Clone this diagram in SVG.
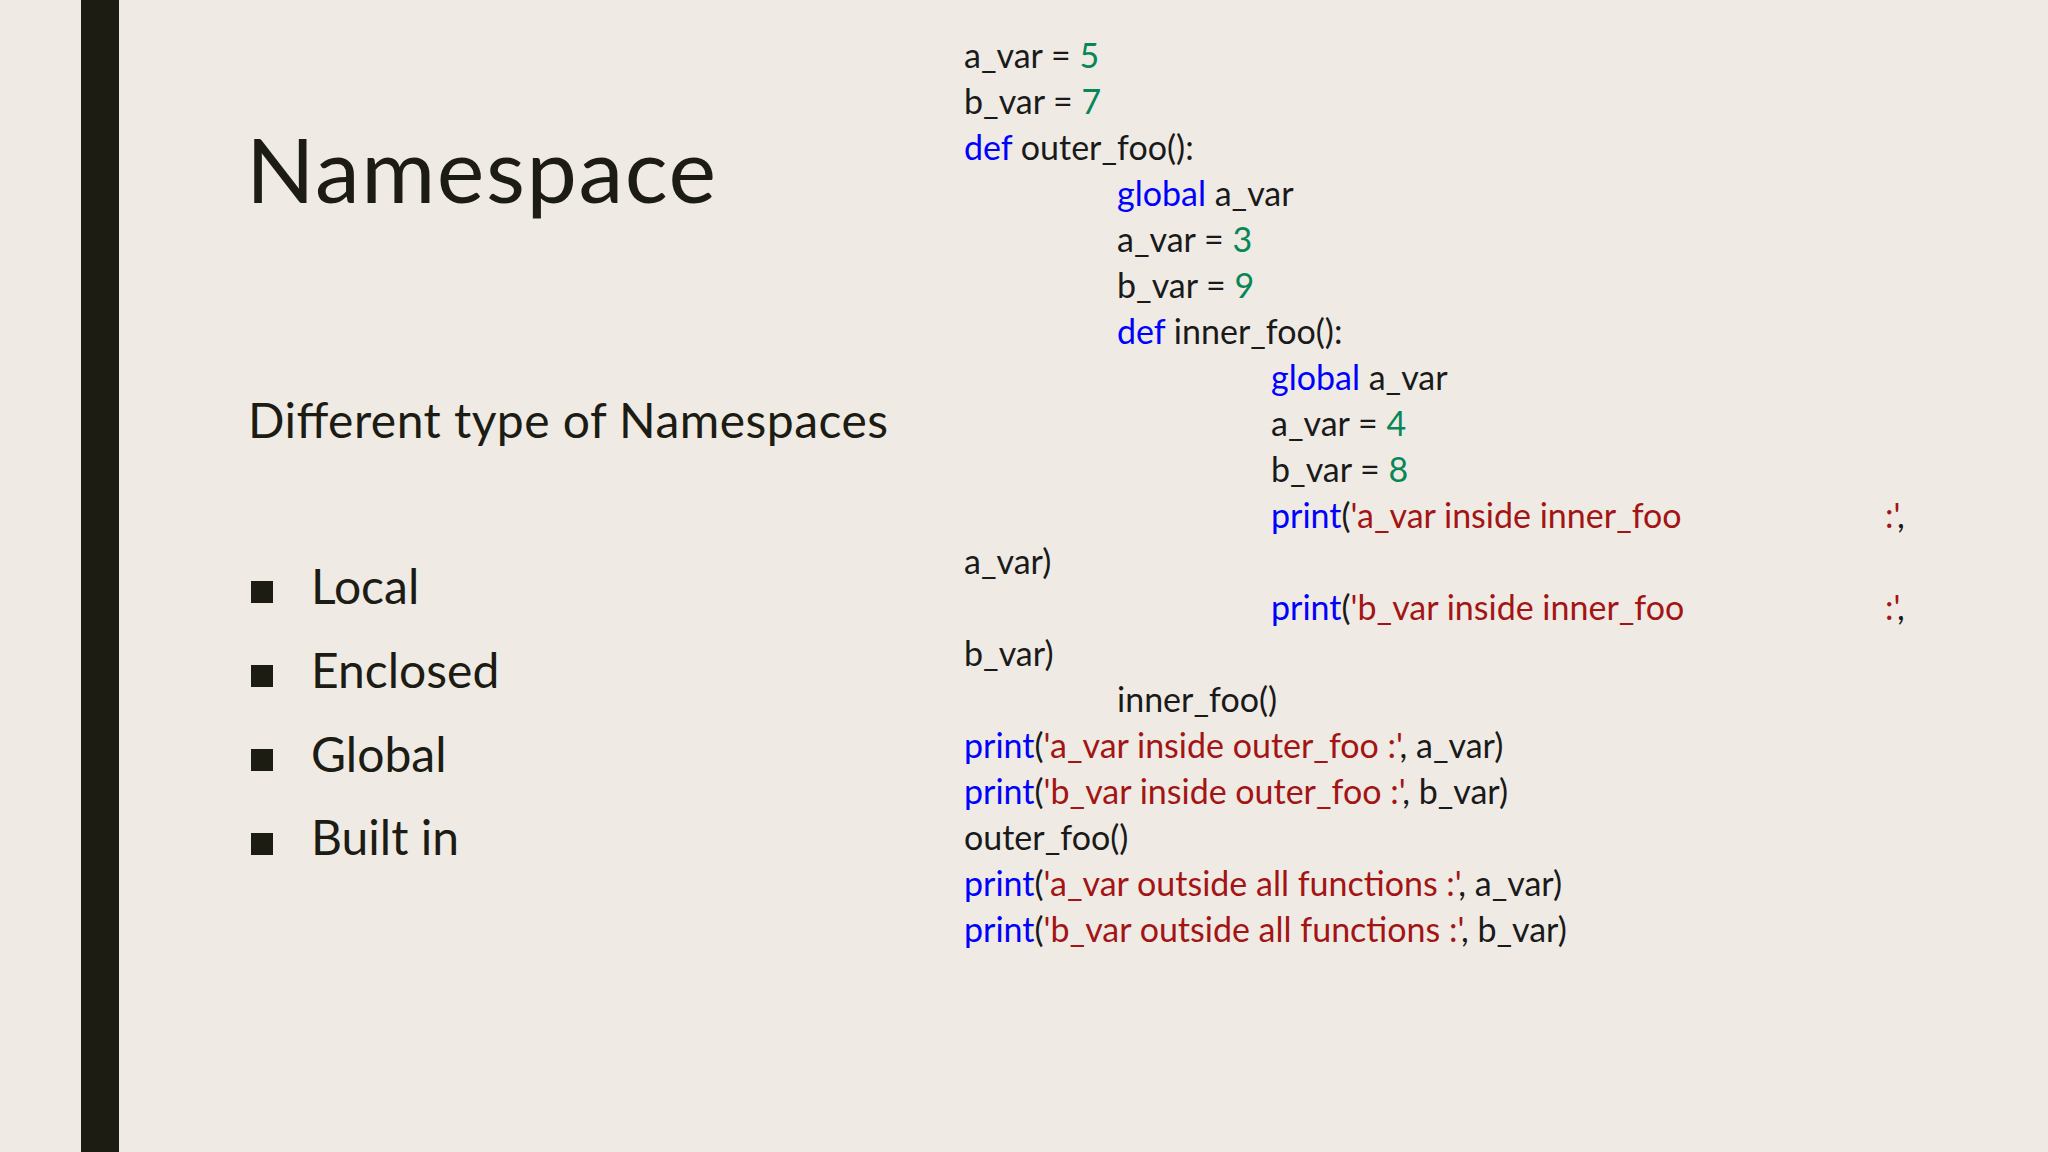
<svg xmlns="http://www.w3.org/2000/svg" width="2048" height="1152" viewBox="0 0 2048 1152">
<style>
.c{font-family:Lato,"Open Sans",sans-serif;font-size:34px;fill:#1a1a1a}
.k{fill:#0000ff}.n{fill:#098658}.s{fill:#a31515}
.b{font-family:Lato,"Open Sans",sans-serif;font-size:48px;fill:#1c1c14}
</style>
<rect width="2048" height="1152" fill="#efebe4"/>
<rect x="81" y="0" width="38" height="1152" fill="#1c1c12"/>
<g id="title"><text x="246" y="203" font-family="Lato,'Open Sans',sans-serif" font-size="90" fill="#1c1c14" textLength="470">Namespace</text></g>
<g id="subtitle"><text class="b" x="248" y="438" textLength="640">Different type of Namespaces</text></g>
<g id="bullets">
<rect x="251" y="581" width="22" height="22" fill="#1c1c12"/><text class="b" x="311" y="604">Local</text>
<rect x="251" y="665" width="22" height="22" fill="#1c1c12"/><text class="b" x="311" y="688">Enclosed</text>
<rect x="251" y="749" width="22" height="22" fill="#1c1c12"/><text class="b" x="311" y="772">Global</text>
<rect x="251" y="833" width="22" height="22" fill="#1c1c12"/><text class="b" x="311" y="855">Built in</text>
</g>
<g id="code" class="c">
<text x="964" y="68">a_var = <tspan class="n">5</tspan></text>
<text x="964" y="114">b_var = <tspan class="n">7</tspan></text>
<text x="964" y="160"><tspan class="k">def</tspan> outer_foo():</text>
<text x="1117" y="206"><tspan class="k">global</tspan> a_var</text>
<text x="1117" y="252">a_var = <tspan class="n">3</tspan></text>
<text x="1117" y="298">b_var = <tspan class="n">9</tspan></text>
<text x="1117" y="344"><tspan class="k">def</tspan> inner_foo():</text>
<text x="1271" y="390"><tspan class="k">global</tspan> a_var</text>
<text x="1271" y="436">a_var = <tspan class="n">4</tspan></text>
<text x="1271" y="482">b_var = <tspan class="n">8</tspan></text>
<text x="1271" y="528"><tspan class="k">print</tspan>(<tspan class="s">'a_var inside inner_foo</tspan><tspan x="1885" class="s">:'</tspan>,</text>
<text x="964" y="574">a_var)</text>
<text x="1271" y="620"><tspan class="k">print</tspan>(<tspan class="s">'b_var inside inner_foo</tspan><tspan x="1885" class="s">:'</tspan>,</text>
<text x="964" y="666">b_var)</text>
<text x="1117" y="712">inner_foo()</text>
<text x="964" y="758"><tspan class="k">print</tspan>(<tspan class="s">'a_var inside outer_foo :'</tspan>, a_var)</text>
<text x="964" y="804"><tspan class="k">print</tspan>(<tspan class="s">'b_var inside outer_foo :'</tspan>, b_var)</text>
<text x="964" y="850">outer_foo()</text>
<text x="964" y="896"><tspan class="k">print</tspan>(<tspan class="s">'a_var outside all functions :'</tspan>, a_var)</text>
<text x="964" y="942"><tspan class="k">print</tspan>(<tspan class="s">'b_var outside all functions :'</tspan>, b_var)</text>
</g>
</svg>
